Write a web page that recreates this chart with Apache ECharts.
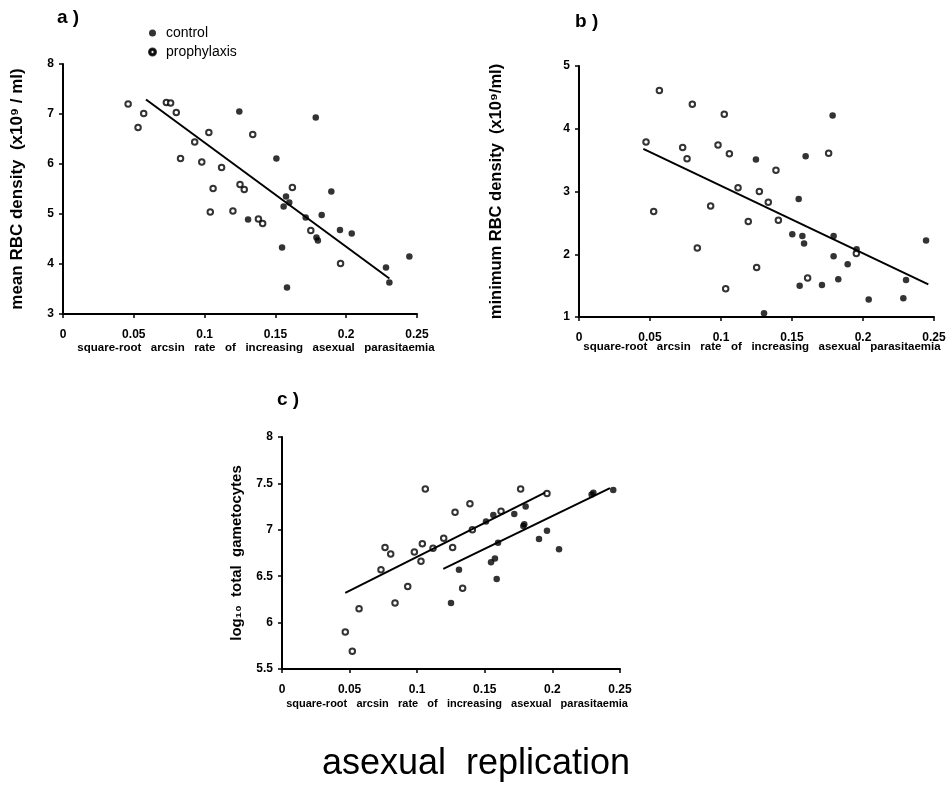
<!DOCTYPE html>
<html>
<head>
<meta charset="utf-8">
<title>asexual replication</title>
<script src="https://cdn.jsdelivr.net/npm/echarts@6/dist/echarts.min.js"></script>
<style>
  html, body { margin: 0; padding: 0; background: #fff; }
  #chart { width: 952px; height: 793px; }
</style>
</head>
<body>
<div id="chart"></div>
<script>
// Panel a: mean RBC density vs. square-root arcsin rate of increase
const aControl = [
  [0.1245, 7.05], [0.1785, 6.93], [0.1507, 6.11], [0.1895, 5.45], [0.1575, 5.35],
  [0.1598, 5.23], [0.1558, 5.15], [0.1307, 4.89], [0.1714, 4.93], [0.1827, 4.98],
  [0.1956, 4.68], [0.2039, 4.61], [0.1790, 4.53], [0.1800, 4.47], [0.1547, 4.33],
  [0.1582, 3.53], [0.2281, 3.93], [0.2305, 3.63], [0.2446, 4.15]
];
const aProphylaxis = [
  [0.046, 7.20], [0.053, 6.73], [0.057, 7.01], [0.073, 7.23], [0.076, 7.22],
  [0.080, 7.03], [0.083, 6.11], [0.093, 6.44], [0.098, 6.04], [0.103, 6.63],
  [0.106, 5.51], [0.112, 5.93], [0.125, 5.59], [0.128, 5.49], [0.134, 6.59],
  [0.104, 5.04], [0.120, 5.06], [0.138, 4.90], [0.141, 4.81], [0.162, 5.53],
  [0.175, 4.67], [0.196, 4.01]
];
const aTrend = [[0.0586, 7.29], [0.2305, 3.71]];

// Panel b: minimum RBC density
const bControl = [
  [0.1786, 4.21], [0.1246, 3.51], [0.1596, 3.56], [0.1547, 2.88], [0.1502, 2.32],
  [0.1573, 2.29], [0.1585, 2.17], [0.1793, 2.29], [0.1955, 2.08], [0.1793, 1.97],
  [0.1892, 1.84], [0.2444, 2.22], [0.2303, 1.59], [0.1826, 1.60], [0.1554, 1.50],
  [0.1711, 1.51], [0.2040, 1.28], [0.2284, 1.30], [0.1303, 1.06]
];
const bProphylaxis = [
  [0.0566, 4.61], [0.0798, 4.39], [0.1023, 4.23], [0.0472, 3.79], [0.0730, 3.70],
  [0.0761, 3.52], [0.0979, 3.74], [0.1059, 3.60], [0.1387, 3.34], [0.1758, 3.61],
  [0.1120, 3.06], [0.1270, 3.00], [0.0526, 2.68], [0.0927, 2.77], [0.1333, 2.83],
  [0.1192, 2.52], [0.1404, 2.54], [0.0833, 2.10], [0.1251, 1.79], [0.1033, 1.45],
  [0.1610, 1.62], [0.1953, 2.01]
];
const bTrend = [[0.0453, 3.68], [0.246, 1.52]];

// Panel c: log10 total gametocytes
const cControl = [
  [0.1563, 7.16], [0.1509, 7.09], [0.1718, 7.17], [0.1802, 7.25], [0.1792, 7.06],
  [0.1785, 7.04], [0.1598, 6.86], [0.1546, 6.65], [0.1575, 6.69], [0.1309, 6.57],
  [0.1588, 6.47], [0.1250, 6.21], [0.1901, 6.90], [0.1960, 6.99], [0.2049, 6.79],
  [0.2303, 7.40], [0.2290, 7.38], [0.2450, 7.43]
];
const cProphylaxis = [
  [0.0732, 6.57], [0.0762, 6.81], [0.0804, 6.74], [0.0979, 6.76], [0.1038, 6.85],
  [0.1028, 6.66], [0.1117, 6.80], [0.1196, 6.91], [0.1262, 6.81], [0.1060, 7.44],
  [0.1280, 7.19], [0.1390, 7.28], [0.1408, 7.00], [0.1620, 7.20], [0.1765, 7.44],
  [0.1960, 7.39], [0.0930, 6.39], [0.0836, 6.21], [0.1336, 6.37], [0.0468, 5.90],
  [0.0570, 6.15], [0.0520, 5.69]
];
const cTrendProphylaxis = [[0.0468, 6.32], [0.1945, 7.40]];
const cTrendControl = [[0.1193, 6.58], [0.2426, 7.45]];

const seriesNames = ['control', 'prophylaxis'];
const xAxisTitle = 'square-root   arcsin   rate   of   increasing   asexual   parasitaemia';
const yTitles = [
  'mean RBC density  (x10\u2079 / ml)',
  'minimum RBC density  (x10\u2079/ml)',
  'log\u2081\u2080  total  gametocytes'
];

const FONT = '"Liberation Sans", Arial, Helvetica, sans-serif';
const ink = '#000';

const chart = echarts.init(document.getElementById('chart'), null, { renderer: 'canvas' });

function xAxisFor(gridIndex) {
  return {
    gridIndex, type: 'value', min: 0, max: 0.25, interval: 0.05,
    axisLine: { show: true, onZero: false, lineStyle: { color: ink, width: 2 } },
    axisTick: { show: true, length: 4, lineStyle: { color: ink, width: 1.5 } },
    splitLine: { show: false },
    axisLabel: {
      color: ink, fontFamily: FONT, fontWeight: 'bold', fontSize: 12, margin: 15,
      formatter: v => String(+v.toFixed(2))
    }
  };
}
function yAxisFor(gridIndex, min, max, interval, name, gap, size) {
  return {
    gridIndex, type: 'value', min, max, interval,
    name, nameLocation: 'middle', nameGap: gap, nameRotate: 90,
    nameTextStyle: { color: ink, fontFamily: FONT, fontWeight: 'bold', fontSize: size },
    axisLine: { show: true, onZero: false, lineStyle: { color: ink, width: 2 } },
    axisTick: { show: true, length: 4, lineStyle: { color: ink, width: 1.5 } },
    splitLine: { show: false },
    axisLabel: { color: ink, fontFamily: FONT, fontWeight: 'bold', fontSize: 12, margin: 9 }
  };
}
function dots(name, data, idx) {
  const open = name === 'prophylaxis';
  return {
    type: 'scatter', name, data, xAxisIndex: idx, yAxisIndex: idx,
    symbol: open ? 'emptyCircle' : 'circle',
    symbolSize: open ? 5.5 : 6.5,
    itemStyle: open
      ? { color: ink, borderColor: ink, borderWidth: 1.6 }
      : { color: ink },
    emphasis: { disabled: true }
  };
}
function trend(data, idx) {
  return {
    type: 'line', data, xAxisIndex: idx, yAxisIndex: idx,
    showSymbol: false, symbol: 'none', silent: true,
    lineStyle: { color: ink, width: 2 },
    emphasis: { disabled: true }
  };
}
function axisCaption(x, y, size) {
  return {
    type: 'text', x, y,
    style: {
      text: xAxisTitle, fill: ink, align: 'center', verticalAlign: 'middle',
      font: 'bold ' + size + 'px ' + FONT
    }
  };
}
function panelTag(text, x, y) {
  return {
    type: 'text', x, y,
    style: { text, fill: ink, align: 'left', verticalAlign: 'middle', font: 'bold 19px ' + FONT }
  };
}

chart.setOption({
  animation: false,
  backgroundColor: '#fff',
  textStyle: { fontFamily: FONT },
  title: {
    text: 'asexual  replication',
    left: 'center', top: 741,
    textStyle: { color: ink, fontFamily: FONT, fontWeight: 'normal', fontSize: 36 }
  },
  legend: {
    orient: 'vertical', left: 143, top: 21, itemGap: 5,
    itemWidth: 7, itemHeight: 7, selectedMode: false,
    textStyle: { color: ink, fontFamily: FONT, fontSize: 14, padding: [0, 0, 0, 5] },
    data: [
      { name: seriesNames[0], icon: 'circle', itemStyle: { color: ink } },
      { name: seriesNames[1], icon: 'path://M50,0A50,50,0,1,1,49.99,0ZM50,22A28,28,0,1,0,50.01,22Z', itemStyle: { color: ink } }
    ]
  },
  grid: [
    { left: 63, top: 64, width: 354, height: 250, outerBoundsMode: 'none', containLabel: false },
    { left: 579, top: 66, width: 355, height: 251, outerBoundsMode: 'none', containLabel: false },
    { left: 282, top: 437, width: 338, height: 232, outerBoundsMode: 'none', containLabel: false }
  ],
  xAxis: [xAxisFor(0), xAxisFor(1), xAxisFor(2)],
  yAxis: [
    yAxisFor(0, 3, 8, 1, yTitles[0], 37, 17),
    yAxisFor(1, 1, 5, 1, yTitles[1], 74, 16.5),
    yAxisFor(2, 5.5, 8, 0.5, yTitles[2], 38, 15)
  ],
  series: [
    dots('control', aControl, 0),
    dots('prophylaxis', aProphylaxis, 0),
    trend(aTrend, 0),
    dots('control', bControl, 1),
    dots('prophylaxis', bProphylaxis, 1),
    trend(bTrend, 1),
    dots('control', cControl, 2),
    dots('prophylaxis', cProphylaxis, 2),
    trend(cTrendProphylaxis, 2),
    trend(cTrendControl, 2)
  ],
  graphic: [
    panelTag('a )', 57, 18),
    panelTag('b )', 575, 22),
    panelTag('c )', 277, 400),
    axisCaption(256, 348, 11.5),
    axisCaption(762, 347, 11.5),
    axisCaption(457, 704, 11)
  ]
});
</script>
</body>
</html>
